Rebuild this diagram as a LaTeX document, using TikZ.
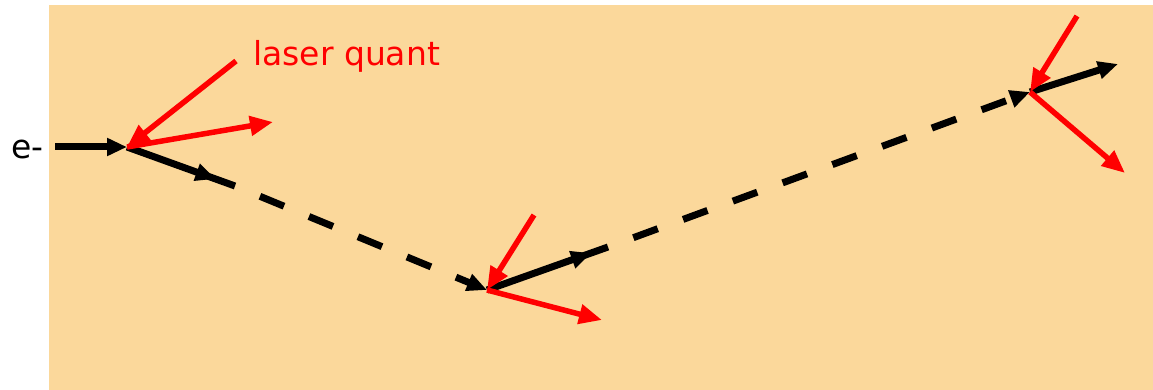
\documentclass[tikz,border=0pt]{standalone}
\usepackage{fontspec}
\setmainfont{DejaVu Sans}
\usetikzlibrary{arrows.meta,decorations.markings}
\definecolor{bgc}{RGB}{251,216,155}
\definecolor{laser}{RGB}{255,0,0}
\tikzset{
  blk/.style={line width=7pt, draw=black},
  bhead/.style={-{Triangle[length=20pt,width=17pt]}},
  red/.style={line width=5.5pt, draw=laser, -{Triangle[length=23pt,width=19pt]}},
  midarrow/.style={decoration={markings, mark=at position #1 with {\arrow{Triangle[length=20pt,width=17pt]}}}, postaction={decorate}},
  dashline/.style={blk, dash pattern=on 26pt off 27pt, dash phase=26pt},
  lbl/.style={inner sep=0pt, font=\fontsize{33pt}{40pt}\selectfont},
}
\begin{document}
\begin{tikzpicture}[x=1pt,y=-1pt]
\useasboundingbox (0,0) rectangle (1153,390);
\fill[bgc] (49,5) rectangle (1153,390);
% coordinates
\coordinate (E0) at (55,147);
\coordinate (V1) at (127,147);
\coordinate (L1in) at (236,61);
\coordinate (L1out) at (273,122);
\coordinate (B1) at (235,186);
\coordinate (V2) at (487,290);
\coordinate (L2in) at (534,215);
\coordinate (L2out) at (602,320);
\coordinate (B2) at (608,247);
\coordinate (V3) at (1030,92);
\coordinate (L3in) at (1077,16);
\coordinate (L3out) at (1125,173);
\coordinate (O3) at (1118,64);
% labels
\node[lbl, anchor=base west] (e) at (11,159) {e-};
\node[lbl, anchor=base west, text=laser] (lq) at (253,66) {laser quant};
% electron path
\draw[blk, bhead] (E0) -- (V1);
\draw[blk, midarrow=0.82] (V1) -- (B1);
\draw[dashline, bhead] (B1) -- (V2);
\draw[blk, midarrow=0.86] (V2) -- (B2);
\draw[dashline, bhead] (B2) -- (V3);
\draw[blk, bhead] (V3) -- (O3);
% laser photons
\draw[red] (L1in) -- (V1);
\draw[red] (V1) -- (L1out);
\draw[red] (L2in) -- (V2);
\draw[red] (V2) -- (L2out);
\draw[red] (L3in) -- (V3);
\draw[red] (V3) -- (L3out);
\end{tikzpicture}
\end{document}
